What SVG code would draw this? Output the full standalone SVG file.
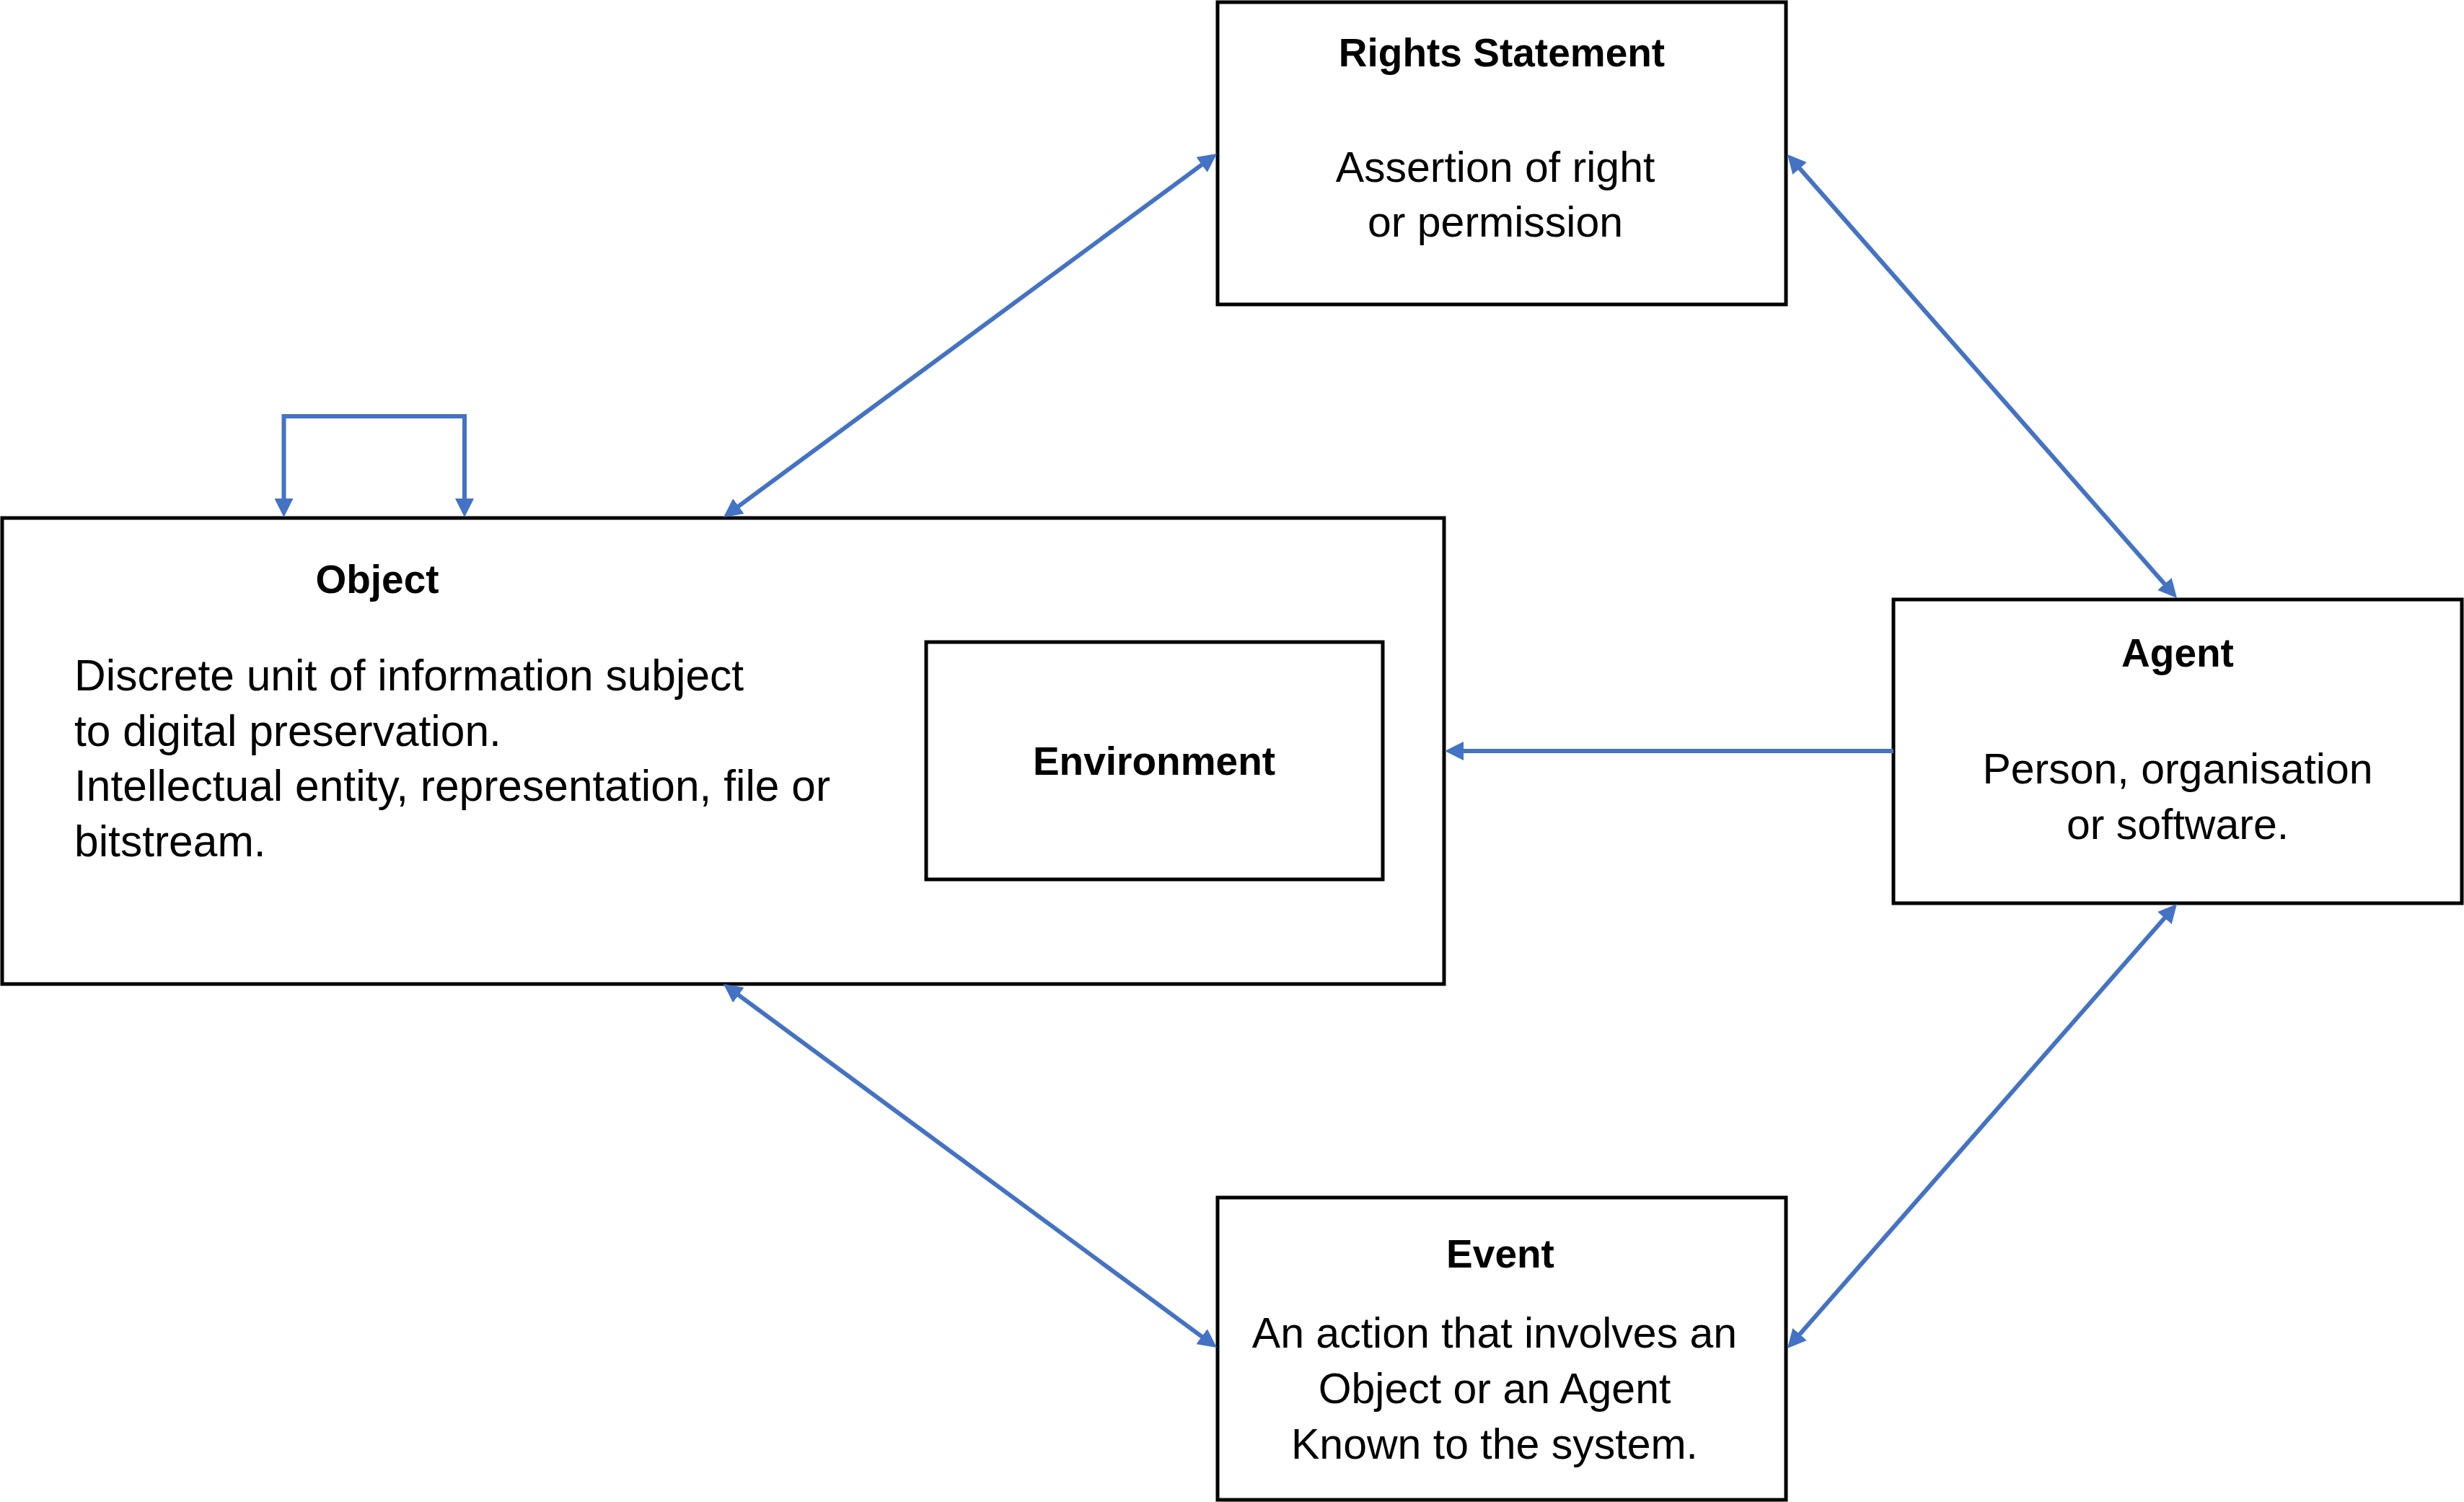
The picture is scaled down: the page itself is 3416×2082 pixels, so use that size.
<svg xmlns="http://www.w3.org/2000/svg" width="3416" height="2082" viewBox="0 0 3416 2082">
<style>
.box{fill:#ffffff;stroke:#000000;stroke-width:5}
.t{font-family:"Liberation Sans",Arial,sans-serif;font-weight:bold;font-size:55px;fill:#000000;text-anchor:middle}
.b{font-family:"Liberation Sans",Arial,sans-serif;font-size:59px;fill:#000000;text-anchor:middle}
.bl{font-family:"Liberation Sans",Arial,sans-serif;font-size:60.5px;fill:#000000}
.c{fill:none;stroke:#4472C4;stroke-width:6}
</style>
<defs>
<marker id="ah" markerUnits="userSpaceOnUse" markerWidth="26" markerHeight="26" refX="2" refY="13" orient="auto-start-reverse" viewBox="0 0 26 26">
<path d="M0,0 L26,13 L0,26 z" fill="#4472C4"/>
</marker>
</defs>
<rect width="3416" height="2082" fill="#ffffff"/>
<g id="object">
<rect class="box" x="3" y="718" width="1999" height="646"/>
<text class="t" x="523" y="822">Object</text>
<text class="bl" x="103" y="957">Discrete unit of information subject</text>
<text class="bl" x="103" y="1034">to digital preservation.</text>
<text class="bl" x="103" y="1110">Intellectual entity, representation, file or</text>
<text class="bl" x="103" y="1187">bitstream.</text>
</g>
<g id="environment">
<rect class="box" x="1284" y="890" width="633" height="329"/>
<text class="t" x="1600" y="1074">Environment</text>
</g>
<g id="rights">
<rect class="box" x="1688" y="3" width="788" height="419"/>
<text class="t" x="2082" y="92">Rights Statement</text>
<text class="b" x="2073" y="252">Assertion of right</text>
<text class="b" x="2073" y="328">or permission</text>
</g>
<g id="agent">
<rect class="box" x="2625" y="831" width="788" height="421"/>
<text class="t" x="3019" y="924">Agent</text>
<text class="b" x="3019" y="1086">Person, organisation</text>
<text class="b" x="3019" y="1163">or software.</text>
</g>
<g id="event">
<rect class="box" x="1688" y="1660" width="788" height="419"/>
<text class="t" x="2080" y="1757">Event</text>
<text class="b" x="2072" y="1868">An action that involves an</text>
<text class="b" x="2072" y="1945">Object or an Agent</text>
<text class="b" x="2072" y="2022">Known to the system.</text>
</g>
<g id="connectors">
<line class="c" x1="1022.3" y1="702.8" x2="1667.7" y2="227.2" marker-start="url(#ah)" marker-end="url(#ah)"/>
<line class="c" x1="2493.8" y1="232" x2="3002.2" y2="811" marker-start="url(#ah)" marker-end="url(#ah)"/>
<line class="c" x1="2625" y1="1041" x2="2027" y2="1041" marker-end="url(#ah)"/>
<line class="c" x1="1022.3" y1="1378.2" x2="1667.7" y2="1853.8" marker-start="url(#ah)" marker-end="url(#ah)"/>
<line class="c" x1="2493.8" y1="1851" x2="3002.2" y2="1271" marker-start="url(#ah)" marker-end="url(#ah)"/>
<path class="c" d="M393.5,693 L393.5,577 L644,577 L644,693" marker-start="url(#ah)" marker-end="url(#ah)"/>
</g>
</svg>
